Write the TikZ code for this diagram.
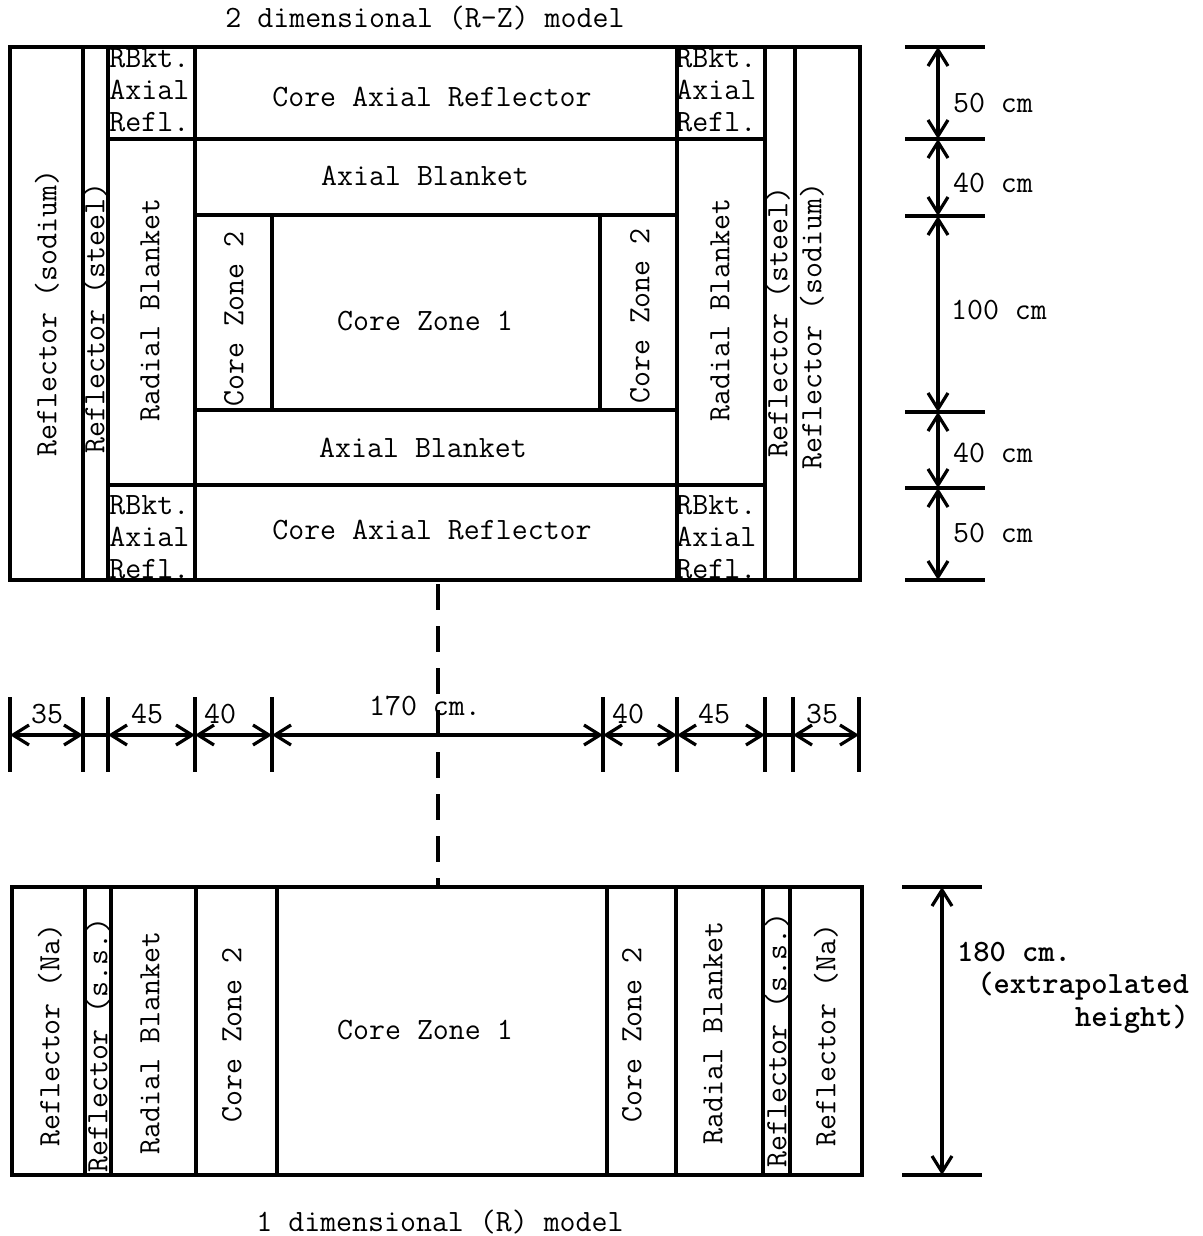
\documentclass[tikz,border=0pt]{standalone}
\usetikzlibrary{arrows.meta}
\begin{document}
\begin{tikzpicture}[x=0.5pt, y=-0.5pt, font=\ttfamily\fontsize{15.5}{18}\selectfont,
    wall/.style={line width=2pt},
    tick/.style={line width=2pt},
    dimline/.style={line width=1.6pt, {Straight Barb[length=8pt,width=10pt]}-{Straight Barb[length=8pt,width=10pt]}},
    vlabel/.style={rotate=90, inner sep=0pt},
    cell/.style={align=left, anchor=west, inner sep=0pt, font=\ttfamily\fontsize{15.5}{16}\selectfont}]
  \useasboundingbox (0,0) rectangle (1203,1236);
  % 2D model
  \node (title2) at (425,18) {2 dimensional (R-Z) model};
  \draw[wall] (10,47) rectangle (860,580);
  \foreach \x in {83,108,195,677,765,795} \draw[wall] (\x,47) -- (\x,580);
  \draw[wall] (108,139) -- (765,139) (108,485) -- (765,485);
  \draw[wall] (195,215) -- (677,215) (195,410) -- (677,410);
  \draw[wall] (272,215) -- (272,410) (600,215) -- (600,410);
  \node[vlabel] (rnaL) at (47,313) {Reflector (sodium)};
  \node[vlabel] (rssL) at (95,318) {Reflector (steel)};
  \node[vlabel] (rbL) at (150,310) {Radial Blanket};
  \node[vlabel] (cz2L) at (234,319) {Core Zone 2};
  \node (cz1) at (425,321) {Core Zone 1};
  \node[vlabel] (cz2R) at (640,316) {Core Zone 2};
  \node[vlabel] (rbR) at (720,310) {Radial Blanket};
  \node[vlabel] (rssR) at (778,322) {Reflector (steel)};
  \node[vlabel] (rnaR) at (812,326) {Reflector (sodium)};
  \node (carT) at (432,97) {Core Axial Reflector};
  \node (abT) at (425,176) {Axial Blanket};
  \node (abB) at (423,448) {Axial Blanket};
  \node (carB) at (432,530) {Core Axial Reflector};
  \node[cell] (rbaTL) at (109,90) {RBkt.\\Axial\\Refl.};
  \node[cell] (rbaTR) at (676,90) {RBkt.\\Axial\\Refl.};
  \node[cell] (rbaBL) at (109,537) {RBkt.\\Axial\\Refl.};
  \node[cell] (rbaBR) at (676,537) {RBkt.\\Axial\\Refl.};
  % Axial dimensions
  \foreach \y [count=\i from 0] in {47,139,216,412,488,580} {
    \coordinate (z\i) at (938,\y);
    \draw[tick] (905,\y) -- (985,\y);
  }
  \foreach \a/\b in {0/1,1/2,2/3,3/4,4/5} \draw[dimline] (z\a) -- (z\b);
  \node[anchor=west] (d50T) at (946,103) {50 cm};
  \node[anchor=west] (d40T) at (946,183) {40 cm};
  \node[anchor=west] (d100) at (944,310) {100 cm};
  \node[anchor=west] (d40B) at (946,453) {40 cm};
  \node[anchor=west] (d50B) at (946,533) {50 cm};
  % Radial dimensions
  \foreach \x [count=\i from 0] in {10,83,108,195,272,603,677,765,793,859} {
    \coordinate (r\i) at (\x,735);
    \draw[tick] (\x,697) -- (\x,772);
  }
  \foreach \a/\b in {0/1,2/3,3/4,4/5,5/6,6/7,8/9} \draw[dimline] (r\a) -- (r\b);
  \draw[line width=1.6pt] (r1) -- (r2) (r7) -- (r8);
  \node (w35L) at (47,714) {35};
  \node (w45L) at (147,714) {45};
  \node (w40L) at (220,714) {40};
  \node (w170) at (425,706) {170 cm.};
  \node (w40R) at (628,714) {40};
  \node (w45R) at (714,714) {45};
  \node (w35R) at (822,714) {35};
  % Cut line
  \coordinate (cutT) at (438,584);
  \coordinate (cutB) at (438,887);
  \draw[wall, dash pattern=on 13pt off 8pt] (cutT) -- (cutB);
  % 1D model
  \draw[wall] (12,887) rectangle (862,1175);
  \foreach \x in {85,111,196,277,607,676,763,790} \draw[wall] (\x,887) -- (\x,1175);
  \node[vlabel] (naL) at (50,1035) {Reflector (Na)};
  \node[vlabel] (ssL) at (98,1045) {Reflector (s.s.)};
  \node[vlabel] (blL) at (150,1043) {Radial Blanket};
  \node[vlabel] (zn2L) at (232,1035) {Core Zone 2};
  \node (zn1) at (425,1030) {Core Zone 1};
  \node[vlabel] (zn2R) at (632,1035) {Core Zone 2};
  \node[vlabel] (blR) at (713,1033) {Radial Blanket};
  \node[vlabel] (ssR) at (777,1040) {Reflector (s.s.)};
  \node[vlabel] (naR) at (826,1035) {Reflector (Na)};
  \node (title1) at (440,1222) {1 dimensional (R) model};
  % Height
  \coordinate (hT) at (942,887);
  \coordinate (hB) at (942,1175);
  \draw[tick] (902,887) -- (982,887) (902,1175) -- (982,1175);
  \draw[dimline] (hT) -- (hB);
  \node[anchor=west, font=\ttfamily\bfseries\fontsize{15.5}{18}\selectfont] (h180) at (950,952) {180 cm.};
  \node[anchor=east, font=\ttfamily\bfseries\fontsize{15.5}{18}\selectfont] (hext) at (1196,986) {(extrapolated};
  \node[anchor=east, font=\ttfamily\bfseries\fontsize{15.5}{18}\selectfont] (hhgt) at (1196,1019) {height)};
\end{tikzpicture}
\end{document}
